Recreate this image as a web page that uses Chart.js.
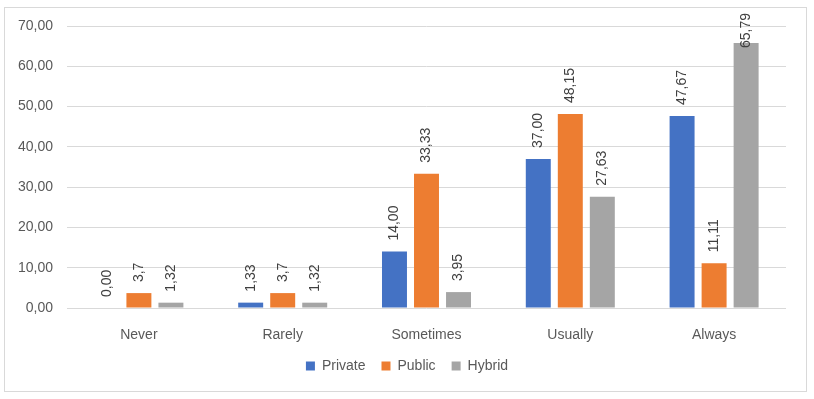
<!DOCTYPE html>
<html><head><meta charset="utf-8">
<script src="https://cdn.jsdelivr.net/npm/chart.js@4/dist/chart.umd.min.js"></script>
<style>html,body{margin:0;padding:0;background:#fff;}</style>
</head><body>
<canvas id="c" width="814" height="399" style="display:block"></canvas>
<script>
const categories = ['Never', 'Rarely', 'Sometimes', 'Usually', 'Always'];
const seriesNames = ['Private', 'Public', 'Hybrid'];
const privateValues = [0.00, 1.33, 14.00, 37.00, 47.67];
const publicValues = [3.7, 3.7, 33.33, 48.15, 11.11];
const hybridValues = [1.32, 1.32, 3.95, 27.63, 65.79];
const labelDecimals = [2, null, 2];
const yMin = 0, yMax = 70, yStep = 10;
const seriesColors = ['#4472C4', '#ED7D31', '#A5A5A5'];

const FONT = "'Liberation Sans', Arial, sans-serif";
const TEXT = '#595959';

function fmt(v, dec) {
  const s = dec === null ? String(v) : v.toFixed(dec);
  return s.replace('.', ',');
}

const borderPlugin = {
  id: 'borderPlugin',
  beforeDraw(chart) {
    const ctx = chart.ctx;
    ctx.save();
    ctx.fillStyle = '#fff';
    ctx.fillRect(0, 0, chart.width, chart.height);
    ctx.strokeStyle = '#d9d9d9';
    ctx.lineWidth = 1;
    ctx.strokeRect(4.5, 7.5, 802, 384);
    ctx.restore();
  }
};

const labelPlugin = {
  id: 'labelPlugin',
  afterDatasetsDraw(chart) {
    const ctx = chart.ctx;
    ctx.save();
    ctx.font = '14px ' + FONT;
    ctx.fillStyle = '#404040';
    ctx.textAlign = 'left';
    ctx.textBaseline = 'middle';
    chart.data.datasets.forEach((ds, di) => {
      const meta = chart.getDatasetMeta(di);
      meta.data.forEach((bar, i) => {
        const txt = fmt(ds.data[i], labelDecimals[di]);
        const w = ctx.measureText(txt).width;
        let start = bar.y - 11;
        if (start - w < 13) start = 13 + w;
        ctx.save();
        ctx.translate(bar.x, start);
        ctx.rotate(-Math.PI / 2);
        ctx.fillText(txt, 0, 0);
        ctx.restore();
      });
    });
    ctx.restore();
  }
};

new Chart(document.getElementById('c'), {
  type: 'bar',
  data: {
    labels: categories,
    datasets: [
      { label: seriesNames[0], data: privateValues, backgroundColor: seriesColors[0] },
      { label: seriesNames[1], data: publicValues, backgroundColor: seriesColors[1] },
      { label: seriesNames[2], data: hybridValues, backgroundColor: seriesColors[2] }
    ]
  },
  options: {
    responsive: false,
    animation: false,
    devicePixelRatio: 1,
    datasets: { bar: { categoryPercentage: 0.668, barPercentage: 0.78 } },
    layout: { padding: { top: 26, left: 14, right: 14, bottom: 16 } },
    plugins: {
      tooltip: { enabled: false },
      legend: {
        position: 'bottom',
        labels: {
          font: { family: FONT, size: 14 },
          color: TEXT,
          boxWidth: 9,
          boxHeight: 9,
          padding: 16
        }
      }
    },
    scales: {
      x: {
        grid: { display: false },
        border: { display: false },
        ticks: { font: { family: FONT, size: 14 }, color: TEXT, padding: 11, maxRotation: 0 },
        afterFit(s) { s.height = 35; }
      },
      y: {
        min: yMin, max: yMax,
        grid: { color: '#d9d9d9', drawTicks: false, lineWidth: 1 },
        border: { display: false },
        ticks: {
          stepSize: yStep,
          font: { family: FONT, size: 14 },
          color: TEXT,
          padding: 14,
          callback: v => fmt(v, 2)
        },
        afterFit(s) { s.width = 53; }
      },
      y2: {
        position: 'right',
        display: true,
        grid: { display: false },
        border: { display: false },
        ticks: { display: false },
        afterFit(s) { s.width = 14; }
      }
    }
  },
  plugins: [borderPlugin, labelPlugin]
});
</script>
</body></html>
